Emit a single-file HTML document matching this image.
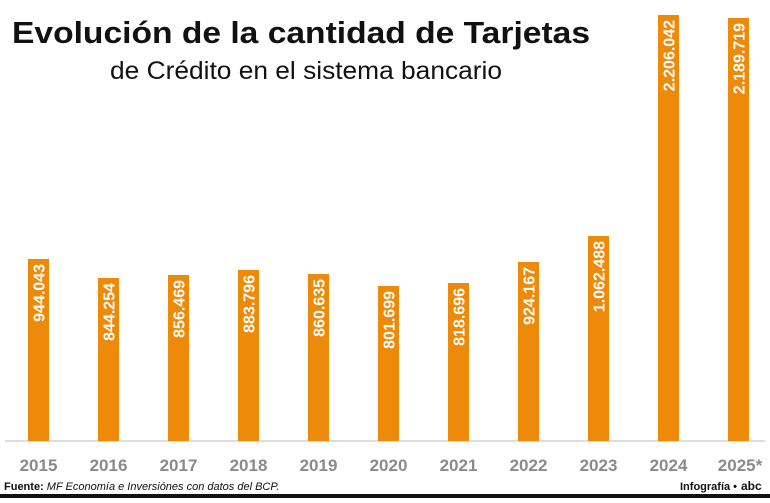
<!DOCTYPE html><html><head><meta charset="utf-8"><style>
body{margin:0;width:770px;height:498px;background:#fff;overflow:hidden;font-family:"Liberation Sans",sans-serif}
</style></head><body>
<svg width="770" height="498" xmlns="http://www.w3.org/2000/svg" font-family="Liberation Sans, sans-serif">
<text x="12" y="43" font-size="31" font-weight="bold" fill="#111" textLength="578" lengthAdjust="spacingAndGlyphs">Evolución de la cantidad de Tarjetas</text>
<text x="110" y="79" font-size="25" fill="#111" textLength="392" lengthAdjust="spacingAndGlyphs">de Crédito en el sistema bancario</text>
<line x1="5" y1="441" x2="765" y2="441" stroke="#ddd" stroke-width="2"/>
<g fill="#ee8a09">
<rect x="28" y="259" width="21" height="182"/>
<rect x="98" y="278" width="21" height="163"/>
<rect x="168" y="275" width="21" height="166"/>
<rect x="238" y="270" width="21" height="171"/>
<rect x="308" y="274" width="21" height="167"/>
<rect x="378" y="286" width="21" height="155"/>
<rect x="448" y="283" width="21" height="158"/>
<rect x="518" y="262" width="21" height="179"/>
<rect x="588" y="236" width="21" height="205"/>
<rect x="658" y="15" width="21" height="426"/>
<rect x="728" y="18" width="21" height="423"/>
</g>
<g fill="#fff" font-size="16" font-weight="bold" text-anchor="end">
<text transform="translate(44.5,264) rotate(-90)">944.043</text>
<text transform="translate(114.5,283) rotate(-90)">844.254</text>
<text transform="translate(184.5,280) rotate(-90)">856.469</text>
<text transform="translate(254.5,275) rotate(-90)">883.796</text>
<text transform="translate(324.5,279) rotate(-90)">860.635</text>
<text transform="translate(394.5,291) rotate(-90)">801.699</text>
<text transform="translate(464.5,288) rotate(-90)">818.696</text>
<text transform="translate(534.5,267) rotate(-90)">924.167</text>
<text transform="translate(604.5,241) rotate(-90)">1.062.488</text>
<text transform="translate(674.5,20) rotate(-90)">2.206.042</text>
<text transform="translate(744.5,23) rotate(-90)">2.189.719</text>
</g>
<g fill="#8a8a8a" font-size="17" font-weight="bold" text-anchor="middle">
<text x="38.5" y="471">2015</text><text x="108.5" y="471">2016</text><text x="178.5" y="471">2017</text>
<text x="248.5" y="471">2018</text><text x="318.5" y="471">2019</text><text x="388.5" y="471">2020</text>
<text x="458.5" y="471">2021</text><text x="528.5" y="471">2022</text><text x="598.5" y="471">2023</text>
<text x="668.5" y="471">2024</text><text x="740" y="471">2025*</text>
</g>
<text x="4" y="490" font-size="11" fill="#111"><tspan font-weight="bold">Fuente:</tspan> <tspan font-style="italic">MF Economía e Inversiónes con datos del BCP.</tspan></text>
<text x="680" y="490" font-size="11" font-weight="bold" fill="#111">Infografía •</text>
<text x="741" y="490" font-size="12" font-weight="bold" fill="#111">abc</text>
<rect x="0" y="494" width="770" height="4" fill="#111"/>
</svg>
</body></html>
